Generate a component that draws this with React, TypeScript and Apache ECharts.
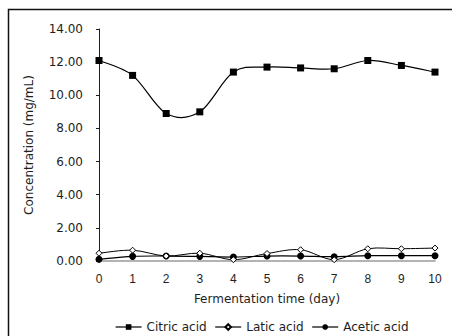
import React, { useEffect, useRef } from "react";
import * as echarts from "echarts";

const days = [0, 1, 2, 3, 4, 5, 6, 7, 8, 9, 10];
const citric = [12.1, 11.2, 8.9, 9.0, 11.4, 11.7, 11.65, 11.6, 12.1, 11.8, 11.4];
const latic = [0.47, 0.65, 0.3, 0.47, 0.08, 0.45, 0.68, 0.08, 0.74, 0.74, 0.78];
const acetic = [0.1, 0.28, 0.3, 0.28, 0.24, 0.3, 0.3, 0.26, 0.32, 0.32, 0.32];
const seriesNames = ["Citric acid", "Latic acid", "Acetic acid"];
const yTitle = "Concentration (mg/mL)";
const xTitle = "Fermentation time (day)";

const SANS = "DejaVu Sans, sans-serif";
const ARIAL = "Liberation Sans, Arial, sans-serif";
const INK = "#1e1e1e";

// Excel-like smoothed curve (Catmull-Rom through the points, mapped by the chart's scales)
function curveSeries(name: string, values: number[], width: number) {
  const data = days.map((d, i) => [d, values[i]]);
  return {
    name,
    type: "custom",
    data,
    silent: true,
    z: 1,
    renderItem: (params: any, api: any) => {
      if (params.dataIndex !== 0) return null;
      const pts = data.map((p) => api.coord(p));
      const n = pts.length;
      let d = `M${pts[0][0]},${pts[0][1]}`;
      for (let i = 0; i < n - 1; i++) {
        const p0 = pts[Math.max(0, i - 1)];
        const p1 = pts[i];
        const p2 = pts[i + 1];
        const p3 = pts[Math.min(n - 1, i + 2)];
        const c1x = p1[0] + (p2[0] - p0[0]) / 6;
        const c1y = p1[1] + (p2[1] - p0[1]) / 6;
        const c2x = p2[0] - (p3[0] - p1[0]) / 6;
        const c2y = p2[1] - (p3[1] - p1[1]) / 6;
        d += ` C${c1x},${c1y} ${c2x},${c2y} ${p2[0]},${p2[1]}`;
      }
      return {
        type: "path",
        shape: { pathData: d },
        style: { fill: "none", stroke: "#000", lineWidth: width },
      };
    },
  };
}

export default function App() {
  const ref = useRef<HTMLDivElement>(null);
  useEffect(() => {
    document.body.style.margin = "0";
    if (!ref.current) return;
    const chart = echarts.init(ref.current, undefined, { renderer: "svg" });
    const pair = (arr: number[]) => days.map((d, i) => [d, arr[i]]);
    const markerSeries = (name: string, arr: number[], symbol: string, size: number, hollow: boolean, z: number) => ({
      name,
      type: "line",
      data: pair(arr),
      symbol,
      symbolSize: size,
      showSymbol: true,
      itemStyle: hollow
        ? { color: "#fff", borderColor: "#000", borderWidth: 1 }
        : { color: "#000", borderColor: "#000", borderWidth: 0 },
      lineStyle: { color: "#000", width: 0, opacity: 0 },
      z,
    });
    chart.setOption({
      animation: false,
      backgroundColor: "#ffffff",
      textStyle: { fontFamily: SANS, color: INK },
      graphic: [
        {
          type: "rect",
          shape: { x: 8.5, y: 9.5, width: 460, height: 340 },
          style: { fill: "none", stroke: "#111", lineWidth: 1.5 },
          silent: true,
        },
      ],
      grid: { left: 99, right: 17, top: 29, bottom: 75, containLabel: false },
      xAxis: {
        type: "value",
        min: 0,
        max: 10,
        interval: 1,
        name: xTitle,
        nameLocation: "middle",
        nameGap: 32,
        nameTextStyle: { fontFamily: SANS, fontSize: 12, color: INK },
        axisLine: { show: true, lineStyle: { color: "#9a9a9a", width: 1.5 } },
        axisTick: { show: false },
        splitLine: { show: false },
        axisLabel: { fontFamily: ARIAL, fontSize: 12, color: INK, margin: 12 },
      },
      yAxis: {
        type: "value",
        min: 0,
        max: 14,
        interval: 2,
        name: yTitle,
        nameLocation: "middle",
        nameGap: 64,
        nameRotate: 90,
        nameTextStyle: { fontFamily: SANS, fontSize: 12, color: INK },
        axisLine: { show: true, lineStyle: { color: INK, width: 1 } },
        axisTick: { show: true, inside: false, length: 3, lineStyle: { color: INK } },
        splitLine: { show: false },
        axisLabel: {
          fontFamily: SANS,
          fontSize: 12,
          color: INK,
          margin: 16,
          formatter: (v: number) => v.toFixed(2),
        },
      },
      legend: {
        top: 321,
        left: 115,
        padding: 0,
        itemWidth: 26,
        itemHeight: 7,
        itemGap: 8,
        textStyle: { fontFamily: SANS, fontSize: 12, color: INK },
        data: seriesNames.map((n) => ({
          name: n,
          lineStyle: { color: "#000", width: 1.2, opacity: 1 },
        })),
      },
      series: [
        curveSeries("citric-curve", citric, 1.2),
        curveSeries("latic-curve", latic, 1),
        curveSeries("acetic-curve", acetic, 1.2),
        markerSeries(seriesNames[0], citric, "rect", 7, false, 5),
        markerSeries(seriesNames[1], latic, "diamond", 6, true, 4),
        markerSeries(seriesNames[2], acetic, "circle", 7, false, 3),
      ],
    });
    return () => chart.dispose();
  }, []);
  return <div ref={ref} style={{ width: 452, height: 336 }} />;
}
